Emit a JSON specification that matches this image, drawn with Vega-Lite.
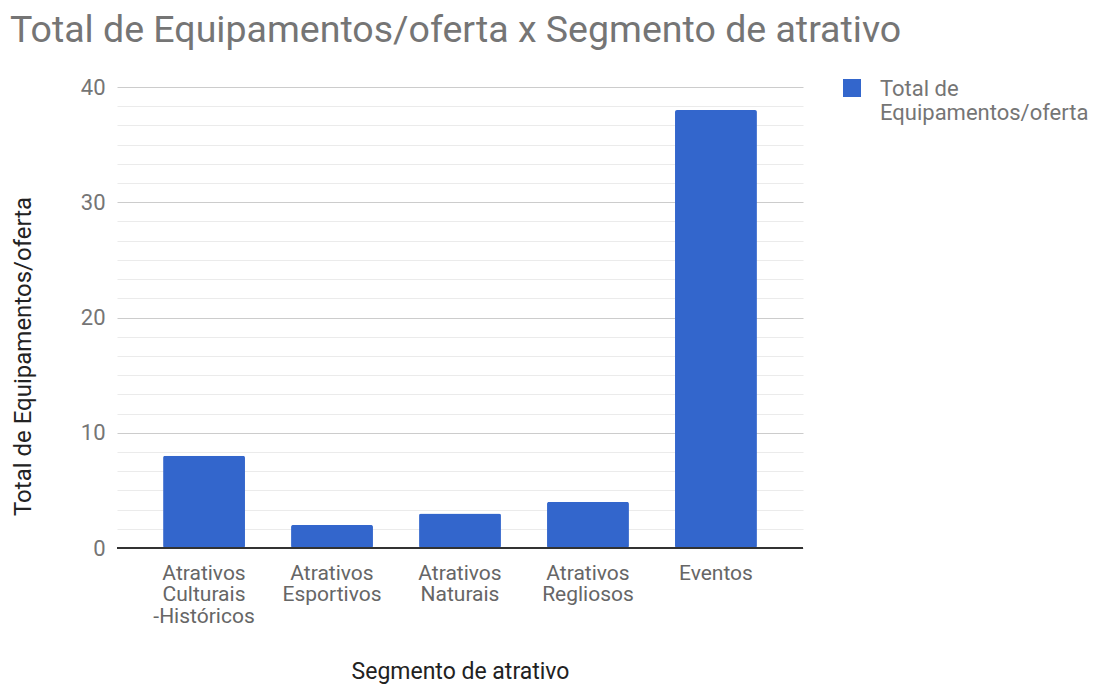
{
  "$schema": "https://vega.github.io/schema/vega-lite/v6.json",
  "width": 686,
  "height": 461,
  "autosize": {"type": "none"},
  "padding": {"left": 117, "top": 87, "right": 296, "bottom": 136},
  "background": "white",
  "config": {"view": {"stroke": null}, "font": "Roboto"},
  "title": {
    "text": "Total de Equipamentos/oferta x Segmento de atrativo",
    "anchor": "start",
    "frame": "group",
    "font": "Roboto",
    "fontSize": 37.5,
    "fontWeight": "normal",
    "color": "#757575",
    "dx": -107,
    "baseline": "alphabetic",
    "offset": -11
  },
  "data": {
    "values": [
      {"segmento": "Atrativos Culturais-Históricos", "total": 8, "serie": "Total de Equipamentos/oferta"},
      {"segmento": "Atrativos Esportivos", "total": 2, "serie": "Total de Equipamentos/oferta"},
      {"segmento": "Atrativos Naturais", "total": 3, "serie": "Total de Equipamentos/oferta"},
      {"segmento": "Atrativos Regliosos", "total": 4, "serie": "Total de Equipamentos/oferta"},
      {"segmento": "Eventos", "total": 38, "serie": "Total de Equipamentos/oferta"}
    ]
  },
  "layer": [
    {
      "mark": {"type": "bar", "cornerRadius": 2},
      "encoding": {
        "x": {
          "field": "segmento",
          "type": "nominal",
          "sort": null,
          "scale": {"paddingInner": 0.36, "paddingOuter": 0.36},
          "axis": {
            "title": "Segmento de atrativo",
            "titleFont": "Roboto",
            "titleFontSize": 23,
            "titleFontWeight": "normal",
            "titleColor": "#222222",
            "titlePadding": 34,
            "labelAngle": 0,
            "labelFont": "Roboto",
            "labelFontSize": 21,
            "labelColor": "#666666",
            "labelLineHeight": 21.5,
            "labelPadding": 14,
            "labelExpr": "split(replace(datum.label, '-', ' -'), ' ')",
            "domain": false,
            "ticks": false,
            "grid": false
          }
        },
        "y": {
          "field": "total",
          "type": "quantitative",
          "scale": {"domain": [0, 40], "nice": false},
          "axis": {
            "orient": "left",
            "values": [0, 10, 20, 30, 40],
            "title": "Total de Equipamentos/oferta",
            "titleFont": "Roboto",
            "titleFontSize": 24,
            "titleFontWeight": "normal",
            "titleColor": "#222222",
            "titlePadding": 45,
            "titleY": 269,
            "labelFont": "Roboto",
            "labelFontSize": 22,
            "labelColor": "#757575",
            "labelPadding": 12,
            "domain": false,
            "ticks": false,
            "grid": true,
            "gridColor": "#cccccc",
            "gridWidth": 1
          }
        },
        "color": {
          "field": "serie",
          "type": "nominal",
          "scale": {"range": ["#3366cc"]},
          "legend": {
            "title": null,
            "orient": "none",
            "legendX": 724,
            "legendY": -19,
            "symbolType": "M-1,0H1V2H-1Z",
            "symbolSize": 324,
            "symbolStrokeWidth": 0,
            "symbolOpacity": 1,
            "labelFont": "Roboto",
            "labelFontSize": 22,
            "labelColor": "#757575",
            "labelOffset": 17,
            "labelLimit": 300,
            "labelBaseline": "top",
            "labelExpr": "[slice(datum.label, 0, 8), slice(datum.label, 9)]"
          }
        }
      }
    },
    {
      "mark": {"type": "rule", "color": "#333333", "strokeWidth": 1.5},
      "encoding": {
        "y": {
          "datum": 0,
          "type": "quantitative",
          "axis": {
            "orient": "left",
            "values": [1.6667, 3.3333, 5, 6.6667, 8.3333, 11.6667, 13.3333, 15, 16.6667, 18.3333, 21.6667, 23.3333, 25, 26.6667, 28.3333, 31.6667, 33.3333, 35, 36.6667, 38.3333],
            "title": null,
            "labels": false,
            "ticks": false,
            "domain": false,
            "grid": true,
            "gridColor": "#ebebeb",
            "gridWidth": 1
          }
        }
      }
    }
  ],
  "resolve": {"axis": {"y": "independent"}}
}
